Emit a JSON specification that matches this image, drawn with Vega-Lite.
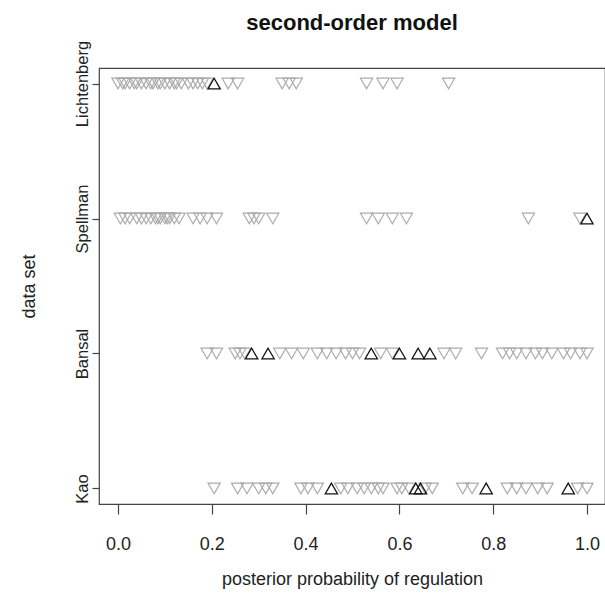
{
  "$schema": "https://vega.github.io/schema/vega-lite/v6.json",
  "width": 506,
  "height": 436,
  "autosize": {"type": "none"},
  "padding": {"left": 99, "top": 68, "right": 0, "bottom": 92},
  "background": "white",
  "config": {
    "font": "Liberation Sans",
    "view": {"stroke": "#444444", "strokeWidth": 1.2},
    "axis": {"grid": false, "domain": false, "tickColor": "#444444", "tickWidth": 1.2, "labelColor": "#222222", "titleColor": "#222222", "labelFont": "Liberation Sans", "titleFont": "Liberation Sans", "titleFontWeight": "normal"}
  },
  "title": {
    "text": "second-order model",
    "fontSize": 22,
    "fontWeight": "bold",
    "font": "Liberation Sans",
    "color": "#111111",
    "anchor": "middle",
    "frame": "group",
    "offset": 5
  },
  "datasets": {
    "pts": [
      {"set": "Lichtenberg", "p": 0.0, "t": "g"},
      {"set": "Lichtenberg", "p": 0.01, "t": "g"},
      {"set": "Lichtenberg", "p": 0.015, "t": "g"},
      {"set": "Lichtenberg", "p": 0.025, "t": "g"},
      {"set": "Lichtenberg", "p": 0.035, "t": "g"},
      {"set": "Lichtenberg", "p": 0.04, "t": "g"},
      {"set": "Lichtenberg", "p": 0.05, "t": "g"},
      {"set": "Lichtenberg", "p": 0.06, "t": "g"},
      {"set": "Lichtenberg", "p": 0.07, "t": "g"},
      {"set": "Lichtenberg", "p": 0.075, "t": "g"},
      {"set": "Lichtenberg", "p": 0.085, "t": "g"},
      {"set": "Lichtenberg", "p": 0.09, "t": "g"},
      {"set": "Lichtenberg", "p": 0.1, "t": "g"},
      {"set": "Lichtenberg", "p": 0.11, "t": "g"},
      {"set": "Lichtenberg", "p": 0.12, "t": "g"},
      {"set": "Lichtenberg", "p": 0.125, "t": "g"},
      {"set": "Lichtenberg", "p": 0.135, "t": "g"},
      {"set": "Lichtenberg", "p": 0.15, "t": "g"},
      {"set": "Lichtenberg", "p": 0.16, "t": "g"},
      {"set": "Lichtenberg", "p": 0.17, "t": "g"},
      {"set": "Lichtenberg", "p": 0.18, "t": "g"},
      {"set": "Lichtenberg", "p": 0.19, "t": "g"},
      {"set": "Lichtenberg", "p": 0.235, "t": "g"},
      {"set": "Lichtenberg", "p": 0.255, "t": "g"},
      {"set": "Lichtenberg", "p": 0.35, "t": "g"},
      {"set": "Lichtenberg", "p": 0.365, "t": "g"},
      {"set": "Lichtenberg", "p": 0.38, "t": "g"},
      {"set": "Lichtenberg", "p": 0.53, "t": "g"},
      {"set": "Lichtenberg", "p": 0.565, "t": "g"},
      {"set": "Lichtenberg", "p": 0.595, "t": "g"},
      {"set": "Lichtenberg", "p": 0.705, "t": "g"},
      {"set": "Spellman", "p": 0.005, "t": "g"},
      {"set": "Spellman", "p": 0.015, "t": "g"},
      {"set": "Spellman", "p": 0.025, "t": "g"},
      {"set": "Spellman", "p": 0.04, "t": "g"},
      {"set": "Spellman", "p": 0.05, "t": "g"},
      {"set": "Spellman", "p": 0.06, "t": "g"},
      {"set": "Spellman", "p": 0.07, "t": "g"},
      {"set": "Spellman", "p": 0.08, "t": "g"},
      {"set": "Spellman", "p": 0.085, "t": "g"},
      {"set": "Spellman", "p": 0.09, "t": "g"},
      {"set": "Spellman", "p": 0.1, "t": "g"},
      {"set": "Spellman", "p": 0.105, "t": "g"},
      {"set": "Spellman", "p": 0.11, "t": "g"},
      {"set": "Spellman", "p": 0.12, "t": "g"},
      {"set": "Spellman", "p": 0.13, "t": "g"},
      {"set": "Spellman", "p": 0.16, "t": "g"},
      {"set": "Spellman", "p": 0.175, "t": "g"},
      {"set": "Spellman", "p": 0.19, "t": "g"},
      {"set": "Spellman", "p": 0.21, "t": "g"},
      {"set": "Spellman", "p": 0.28, "t": "g"},
      {"set": "Spellman", "p": 0.29, "t": "g"},
      {"set": "Spellman", "p": 0.3, "t": "g"},
      {"set": "Spellman", "p": 0.33, "t": "g"},
      {"set": "Spellman", "p": 0.53, "t": "g"},
      {"set": "Spellman", "p": 0.555, "t": "g"},
      {"set": "Spellman", "p": 0.585, "t": "g"},
      {"set": "Spellman", "p": 0.615, "t": "g"},
      {"set": "Spellman", "p": 0.875, "t": "g"},
      {"set": "Spellman", "p": 0.985, "t": "g"},
      {"set": "Bansal", "p": 0.19, "t": "g"},
      {"set": "Bansal", "p": 0.21, "t": "g"},
      {"set": "Bansal", "p": 0.25, "t": "g"},
      {"set": "Bansal", "p": 0.26, "t": "g"},
      {"set": "Bansal", "p": 0.27, "t": "g"},
      {"set": "Bansal", "p": 0.345, "t": "g"},
      {"set": "Bansal", "p": 0.37, "t": "g"},
      {"set": "Bansal", "p": 0.395, "t": "g"},
      {"set": "Bansal", "p": 0.425, "t": "g"},
      {"set": "Bansal", "p": 0.445, "t": "g"},
      {"set": "Bansal", "p": 0.465, "t": "g"},
      {"set": "Bansal", "p": 0.485, "t": "g"},
      {"set": "Bansal", "p": 0.5, "t": "g"},
      {"set": "Bansal", "p": 0.515, "t": "g"},
      {"set": "Bansal", "p": 0.56, "t": "g"},
      {"set": "Bansal", "p": 0.585, "t": "g"},
      {"set": "Bansal", "p": 0.695, "t": "g"},
      {"set": "Bansal", "p": 0.72, "t": "g"},
      {"set": "Bansal", "p": 0.775, "t": "g"},
      {"set": "Bansal", "p": 0.82, "t": "g"},
      {"set": "Bansal", "p": 0.835, "t": "g"},
      {"set": "Bansal", "p": 0.85, "t": "g"},
      {"set": "Bansal", "p": 0.87, "t": "g"},
      {"set": "Bansal", "p": 0.89, "t": "g"},
      {"set": "Bansal", "p": 0.905, "t": "g"},
      {"set": "Bansal", "p": 0.925, "t": "g"},
      {"set": "Bansal", "p": 0.95, "t": "g"},
      {"set": "Bansal", "p": 0.965, "t": "g"},
      {"set": "Bansal", "p": 0.985, "t": "g"},
      {"set": "Bansal", "p": 1.0, "t": "g"},
      {"set": "Kao", "p": 0.205, "t": "g"},
      {"set": "Kao", "p": 0.255, "t": "g"},
      {"set": "Kao", "p": 0.275, "t": "g"},
      {"set": "Kao", "p": 0.3, "t": "g"},
      {"set": "Kao", "p": 0.315, "t": "g"},
      {"set": "Kao", "p": 0.33, "t": "g"},
      {"set": "Kao", "p": 0.39, "t": "g"},
      {"set": "Kao", "p": 0.405, "t": "g"},
      {"set": "Kao", "p": 0.425, "t": "g"},
      {"set": "Kao", "p": 0.475, "t": "g"},
      {"set": "Kao", "p": 0.49, "t": "g"},
      {"set": "Kao", "p": 0.51, "t": "g"},
      {"set": "Kao", "p": 0.525, "t": "g"},
      {"set": "Kao", "p": 0.54, "t": "g"},
      {"set": "Kao", "p": 0.555, "t": "g"},
      {"set": "Kao", "p": 0.565, "t": "g"},
      {"set": "Kao", "p": 0.595, "t": "g"},
      {"set": "Kao", "p": 0.605, "t": "g"},
      {"set": "Kao", "p": 0.62, "t": "g"},
      {"set": "Kao", "p": 0.655, "t": "g"},
      {"set": "Kao", "p": 0.67, "t": "g"},
      {"set": "Kao", "p": 0.735, "t": "g"},
      {"set": "Kao", "p": 0.755, "t": "g"},
      {"set": "Kao", "p": 0.83, "t": "g"},
      {"set": "Kao", "p": 0.85, "t": "g"},
      {"set": "Kao", "p": 0.87, "t": "g"},
      {"set": "Kao", "p": 0.895, "t": "g"},
      {"set": "Kao", "p": 0.915, "t": "g"},
      {"set": "Kao", "p": 0.98, "t": "g"},
      {"set": "Kao", "p": 1.0, "t": "g"}
    ],
    "reg": [
      {"set": "Lichtenberg", "p": 0.205, "t": "b"},
      {"set": "Spellman", "p": 1.0, "t": "b"},
      {"set": "Bansal", "p": 0.285, "t": "b"},
      {"set": "Bansal", "p": 0.32, "t": "b"},
      {"set": "Bansal", "p": 0.54, "t": "b"},
      {"set": "Bansal", "p": 0.6, "t": "b"},
      {"set": "Bansal", "p": 0.64, "t": "b"},
      {"set": "Bansal", "p": 0.665, "t": "b"},
      {"set": "Kao", "p": 0.455, "t": "b"},
      {"set": "Kao", "p": 0.635, "t": "b"},
      {"set": "Kao", "p": 0.645, "t": "b"},
      {"set": "Kao", "p": 0.785, "t": "b"},
      {"set": "Kao", "p": 0.96, "t": "b"}
    ]
  },
  "encoding": {
    "x": {
      "field": "p",
      "type": "quantitative",
      "scale": {"domain": [-0.0405, 1.0384], "nice": false, "zero": false},
      "axis": {
        "title": "posterior probability of regulation",
        "values": [0, 0.2, 0.4, 0.6, 0.8, 1.0],
        "format": ".1f",
        "labelFontSize": 18,
        "titleFontSize": 18,
        "tickSize": 10,
        "labelPadding": 21,
        "titlePadding": 17,
        "labelFlush": false
      }
    },
    "y": {
      "field": "set",
      "type": "nominal",
      "scale": {"type": "point", "domain": ["Lichtenberg", "Spellman", "Bansal", "Kao"], "padding": 0.115},
      "axis": {
        "title": "data set",
        "labelAngle": -90,
        "labelAlign": "center",
        "labelBaseline": "bottom",
        "labelFontSize": 16.5,
        "titleFontSize": 18,
        "tickSize": 7,
        "labelPadding": 2,
        "titlePadding": 36
      }
    }
  },
  "layer": [
    {
      "data": {"name": "pts"},
      "mark": {"type": "point", "shape": "triangle-down", "filled": false, "stroke": "#ababab", "strokeWidth": 1.2, "size": 150, "opacity": 1}
    },
    {
      "data": {"name": "reg"},
      "mark": {"type": "point", "shape": "triangle-up", "filled": false, "stroke": "#111111", "strokeWidth": 1.3, "size": 150, "opacity": 1}
    }
  ]
}
